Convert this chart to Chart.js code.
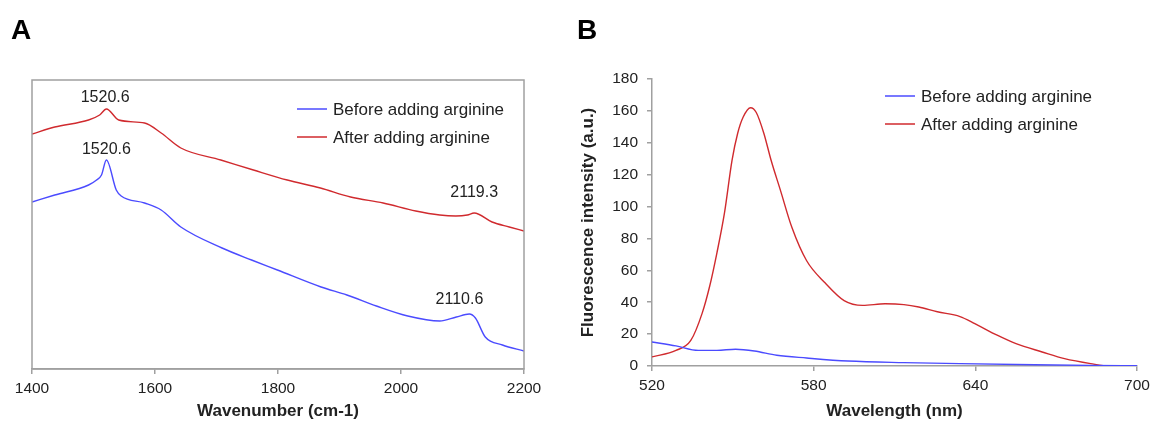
<!DOCTYPE html>
<html>
<head>
<meta charset="utf-8">
<script src="https://cdn.jsdelivr.net/npm/chart.js@4.4.1/dist/chart.umd.min.js"></script>
<style>
  html, body { margin: 0; padding: 0; background: #fff; }
  #wrap { position: relative; width: 1156px; height: 423px; overflow: hidden; }
  .panel { position: absolute; top: 0; width: 578px; height: 423px; }
  #panelA { left: 0; }
  #panelB { left: 578px; }
  .tag { position: absolute; top: 16px; font: bold 28px/28px "Liberation Sans", Arial, sans-serif; color: #000; }
</style>
</head>
<body>
<div id="wrap">
  <div class="panel" id="panelA"><canvas id="chartA" width="578" height="423"></canvas></div>
  <div class="panel" id="panelB"><canvas id="chartB" width="578" height="423"></canvas></div>
  <div class="tag" style="left:11px">A</div>
  <div class="tag" style="left:577px">B</div>
</div>
<script>
// Panel A - Raman spectra (arbitrary intensity, hidden y axis)
const beforeWavenumber = [1400, 1437, 1492, 1505, 1513, 1521, 1537, 1545, 1583, 1610, 1642, 1709, 1757, 1799, 1870, 1912, 1960, 2011, 2063, 2090, 2111, 2121, 2137, 2165, 2200];
const beforeSignal     = [165, 172, 182, 187, 192, 207, 177, 171, 164, 157, 140, 119, 107, 97, 80, 72, 61, 51, 46, 50, 53, 49, 30, 22, 16];

const afterWavenumber = [1400, 1437, 1492, 1510, 1521, 1541, 1583, 1610, 1642, 1707, 1760, 1815, 1869, 1918, 1971, 2024, 2063, 2089, 2108, 2119, 2148, 2176, 2200];
const afterSignal     = [233, 240, 247, 252, 258, 247, 244, 234, 219, 207, 197, 187, 179, 170, 164, 156, 152, 151, 152, 154, 145, 140, 136];

const wavenumberTicks = [1400, 1600, 1800, 2000, 2200];

// peak labels: text, wavenumber, signal level of label centre
const peakLabels = [
  { text: "1520.6", x: 1519, y: 269 },
  { text: "1520.6", x: 1521, y: 217 },
  { text: "2119.3", x: 2119, y: 174 },
  { text: "2110.6", x: 2095, y: 67 },
];

// Panel B - fluorescence spectra
const beforeWavelength = [520, 528.9, 537.2, 544.1, 551, 558, 566.3, 577.4, 592.7, 613.5, 634.3, 662, 682.8, 700];
const beforeFluor      = [15.1, 12.6, 9.8, 9.8, 10.5, 9.4, 6.7, 5, 3.1, 2.1, 1.5, 0.8, 0.4, 0.2];

const afterWavelength = [520, 528.9, 534.4, 538.6, 541.4, 544.1, 546.9, 549.7, 551.8, 553.8, 556.6, 558.7, 561.5, 564.2, 567.7, 571.9, 577.4, 584.3, 591.3, 598.2, 606.5, 613.5, 619, 625.9, 634.3, 639.8, 648.1, 655.1, 664.8, 673.1, 682.8, 689.7, 694];
const afterFluor      = [5.7, 9.8, 16, 33, 50, 71, 96, 129, 146, 156, 162, 159, 146, 129, 110, 87, 66, 52, 41, 38, 39, 38.5, 37, 34, 31, 26.6, 19.3, 14, 8.8, 4.6, 1.5, 0, 0];

const seriesNames = ["Before adding arginine", "After adding arginine"];

const BLUE = "#4b4bff";
const RED = "#d02a2e";
const AXIS = "#a0a0a0";
const TEXT = "#222";
const FONT = "'Liberation Sans', Arial, sans-serif";

const pts = (xs, ys) => xs.map((x, i) => ({ x, y: ys[i] }));

const lineStyle = color => ({
  borderColor: color,
  backgroundColor: color,
  borderWidth: 1.4,
  pointRadius: 0,
  cubicInterpolationMode: "monotone",
  fill: false,
});

// draws the little legend inside the plot, from the dataset labels/colours
const insideLegend = {
  id: "insideLegend",
  afterDraw(chart, args, opts) {
    const { ctx, chartArea } = chart;
    ctx.save();
    ctx.font = `17px ${FONT}`;
    ctx.textBaseline = "middle";
    chart.data.datasets.forEach((ds, i) => {
      const y = chartArea.top + opts.y + i * opts.gap;
      const x = chartArea.left + opts.x;
      ctx.strokeStyle = ds.borderColor;
      ctx.lineWidth = 1.5;
      ctx.beginPath();
      ctx.moveTo(x, y);
      ctx.lineTo(x + 30, y);
      ctx.stroke();
      ctx.fillStyle = TEXT;
      ctx.fillText(ds.label, x + 36, y + 1);
    });
    ctx.restore();
  },
};

const frameBox = {
  id: "frameBox",
  afterDraw(chart, args, opts) {
    if (!opts.show) return;
    const { ctx, chartArea: a } = chart;
    ctx.save();
    ctx.strokeStyle = AXIS;
    ctx.lineWidth = 1.5;
    ctx.strokeRect(a.left, a.top, a.right - a.left, a.bottom - a.top);
    ctx.restore();
  },
};

const peakText = {
  id: "peakText",
  afterDraw(chart, args, opts) {
    if (!opts.items) return;
    const { ctx, scales } = chart;
    ctx.save();
    ctx.font = `16px ${FONT}`;
    ctx.fillStyle = TEXT;
    ctx.textAlign = "center";
    ctx.textBaseline = "middle";
    opts.items.forEach(p => {
      ctx.fillText(p.text, scales.x.getPixelForValue(p.x), scales.y.getPixelForValue(p.y));
    });
    ctx.restore();
  },
};

Chart.register(insideLegend, frameBox, peakText);

const tickFont = { family: FONT, size: 15.5 };
const titleFont = { family: FONT, size: 17, weight: "bold" };
const plain = v => String(v);

new Chart(document.getElementById("chartA"), {
  type: "line",
  data: {
    datasets: [
      { label: seriesNames[0], data: pts(beforeWavenumber, beforeSignal), ...lineStyle(BLUE) },
      { label: seriesNames[1], data: pts(afterWavenumber, afterSignal), ...lineStyle(RED) },
    ],
  },
  options: {
    responsive: false,
    animation: false,
    layout: { padding: { left: 32, right: 54, top: 80, bottom: 0 } },
    plugins: {
      legend: { display: false },
      tooltip: { enabled: false },
      insideLegend: { x: 265, y: 29, gap: 28 },
      frameBox: { show: true },
      peakText: { items: peakLabels },
    },
    scales: {
      x: {
        type: "linear",
        min: 1400,
        max: 2200,
        afterBuildTicks: s => { s.ticks = wavenumberTicks.map(v => ({ value: v })); },
        afterFit: s => { s.height = 54; },
        grid: { drawOnChartArea: false, color: AXIS, tickLength: 5, lineWidth: 1.5 },
        border: { color: AXIS, width: 1.5 },
        ticks: { color: TEXT, font: tickFont, padding: 5, maxRotation: 0, callback: plain },
        title: { display: true, text: "Wavenumber (cm-1)", color: TEXT, font: titleFont, padding: { top: 0, bottom: 1 } },
      },
      y: { display: false, min: -2, max: 287 },
    },
  },
});

new Chart(document.getElementById("chartB"), {
  type: "line",
  data: {
    datasets: [
      { label: seriesNames[0], data: pts(beforeWavelength, beforeFluor), ...lineStyle(BLUE) },
      { label: seriesNames[1], data: pts(afterWavelength, afterFluor), ...lineStyle(RED) },
    ],
  },
  options: {
    responsive: false,
    animation: false,
    layout: { padding: { left: 0, right: 19, top: 79, bottom: 0 } },
    plugins: {
      legend: { display: false },
      tooltip: { enabled: false },
      insideLegend: { x: 233, y: 17, gap: 28 },
      frameBox: { show: false },
    },
    scales: {
      x: {
        type: "linear",
        min: 520,
        max: 700,
        ticks: { stepSize: 60, color: TEXT, font: tickFont, padding: 5, maxRotation: 0, callback: plain },
        afterFit: s => { s.height = 57; },
        grid: { drawOnChartArea: false, color: AXIS, tickLength: 5, lineWidth: 1.5 },
        border: { color: AXIS, width: 1.5 },
        title: { display: true, text: "Wavelength (nm)", color: TEXT, font: titleFont, padding: { top: 0, bottom: 1 } },
      },
      y: {
        min: 0,
        max: 180,
        ticks: { stepSize: 20, color: TEXT, font: tickFont, padding: 9, callback: plain },
        afterFit: s => { s.width = 74; },
        grid: { drawOnChartArea: false, color: AXIS, tickLength: 5, lineWidth: 1.5 },
        border: { color: AXIS, width: 1.5 },
        title: { display: true, text: "Fluorescence intensity (a.u.)", color: TEXT, font: titleFont, padding: { top: 0, bottom: 0 } },
      },
    },
  },
});
</script>
</body>
</html>
